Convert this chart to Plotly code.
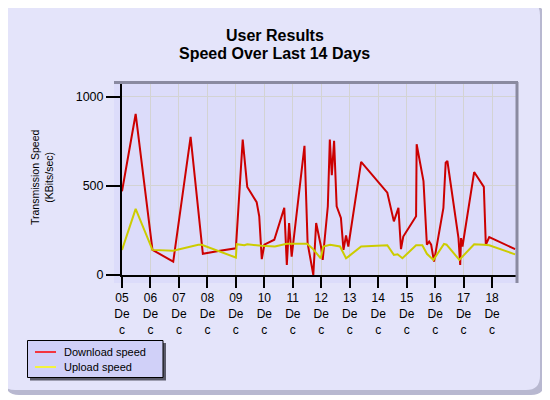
import pandas as pd
import plotly.graph_objects as go

# ---- data (day of month, December) ----
dl_days = [5.00, 5.48, 6.07, 6.80, 7.41, 7.84, 8.44, 9.00, 9.24, 9.40, 9.73, 9.82, 9.91,
           10.00, 10.35, 10.70, 10.79, 10.87, 10.96, 11.41, 11.52, 11.72, 11.82, 11.99,
           12.05, 12.23, 12.30, 12.37, 12.45, 12.54, 12.69, 12.78, 12.87, 12.95, 13.40,
           14.32, 14.55, 14.71, 14.80, 14.88, 15.33, 15.35, 15.59, 15.71, 15.79, 15.86,
           15.96, 16.29, 16.37, 16.43, 16.82, 16.88, 16.91, 16.96, 17.37, 17.71, 17.78,
           17.90, 18.81]
dl_speed = [470, 904, 141, 75, 776, 119, 136, 150, 760, 494, 409, 330, 89,
            170, 198, 377, 56, 292, 103, 725, 179, 0, 292, 160,
            85, 386, 760, 560, 753, 386, 320, 141, 222, 160, 635,
            462, 301, 377, 145, 216, 330, 734, 527, 170, 188, 170,
            75, 377, 631, 640, 207, 56, 207, 160, 578, 495, 170,
            213, 145]

ul_days = [5.00, 5.48, 6.07, 6.80, 7.68, 7.80, 9.00, 9.03, 9.30, 9.40, 9.91, 10.37,
           10.79, 11.50, 11.68, 11.98, 12.07, 12.31, 12.66, 12.87, 12.95, 13.40, 14.32,
           14.55, 14.68, 14.85, 15.33, 15.55, 15.71, 15.94, 16.31, 16.40, 16.85, 17.37,
           17.70, 17.90, 18.81]
ul_speed = [141, 371, 141, 136, 170, 170, 98, 173, 167, 173, 164, 160,
            175, 175, 151, 94, 160, 170, 160, 94, 103, 160, 167,
            113, 116, 94, 167, 167, 119, 85, 175, 170, 85, 173,
            170, 167, 116]

tick_days = list(range(5, 19))
tick_labels = [f"{d:02d}<br>De<br>c" for d in tick_days]
y_ticks = [0, 500, 1000]

series_names = ["Download speed", "Upload speed"]
series_colors = ["#CC0000", "#CCCC00"]
title_lines = ["User Results", "Speed Over Last 14 Days"]
y_title = "Transmission Speed<br>(KBits/sec)"

base = pd.Timestamp("2008-12-01")


def to_time(days):
    return [base + pd.Timedelta(days=d - 1) for d in days]


# ---- geometry (reference pixel coords; page has an 8px body offset) ----
OFF = 8
W, H = 550 - OFF, 400 - OFF
L, R, T, B = 122, 516, 83, 275


def px(x):
    return (x - L) / (R - L)


def py(y):
    return (B - y) / (B - T)


def rounded(x0, y0, x1, y1, r):
    rx = r / (R - L)
    ry = r / (B - T)
    X0, X1 = px(x0), px(x1)
    Y0, Y1 = py(y0), py(y1)
    return (f"M {X0+rx},{Y0} L {X1-rx},{Y0} Q {X1},{Y0} {X1},{Y0-ry} "
            f"L {X1},{Y1+ry} Q {X1},{Y1} {X1-rx},{Y1} "
            f"L {X0+rx},{Y1} Q {X0},{Y1} {X0},{Y1+ry} "
            f"L {X0},{Y0-ry} Q {X0},{Y0} {X0+rx},{Y0} Z")


fig = go.Figure()
fig.add_trace(go.Scatter(x=to_time(dl_days), y=dl_speed, mode="lines",
                         name=series_names[0], line=dict(color=series_colors[0], width=2)))
fig.add_trace(go.Scatter(x=to_time(ul_days), y=ul_speed, mode="lines",
                         name=series_names[1], line=dict(color=series_colors[1], width=2)))

shapes = [
    dict(type="path", xref="paper", yref="paper", layer="below",
         path=rounded(5, 5, 545, 395, 14), fillcolor="#B8B8D0", line=dict(width=0)),
    dict(type="path", xref="paper", yref="paper", layer="below",
         path=rounded(1, 1, 540, 390, 14), fillcolor="#E4E4FA", line=dict(width=0)),
    dict(type="rect", xref="paper", yref="paper", layer="below",
         x0=px(114), x1=px(516), y0=py(283), y1=py(83),
         fillcolor="#DCDCFA", line=dict(width=0)),
    dict(type="line", xref="paper", yref="paper", layer="above",
         x0=px(114), x1=px(518), y0=py(82.5), y1=py(82.5),
         line=dict(color="#8A8AA0", width=3)),
    dict(type="line", xref="paper", yref="paper", layer="above",
         x0=px(517), x1=px(517), y0=py(82), y1=py(283),
         line=dict(color="#8A8AA0", width=3)),
    # legend: shadow, box, samples
    dict(type="rect", xref="paper", yref="paper", layer="above",
         x0=px(30), x1=px(166), y0=py(380.5), y1=py(343),
         fillcolor="#5A5A6A", line=dict(width=0)),
    dict(type="rect", xref="paper", yref="paper", layer="above",
         x0=px(27.5), x1=px(163), y0=py(377.5), y1=py(340.5),
         fillcolor="#D0D0F8", line=dict(color="black", width=1)),
    dict(type="line", xref="paper", yref="paper", layer="above",
         x0=px(35), x1=px(56), y0=py(352), y1=py(352),
         line=dict(color="#FF0000", width=1.5)),
    dict(type="line", xref="paper", yref="paper", layer="above",
         x0=px(35), x1=px(56), y0=py(367), y1=py(367),
         line=dict(color="#FFFF00", width=1.5)),
]

annotations = [
    dict(text="<b>" + title_lines[0] + "</b>", xref="paper", yref="paper",
         x=px(274.5), y=py(35), xanchor="center", yanchor="middle", showarrow=False,
         font=dict(size=16, color="black")),
    dict(text="<b>" + title_lines[1] + "</b>", xref="paper", yref="paper",
         x=px(274.5), y=py(53), xanchor="center", yanchor="middle", showarrow=False,
         font=dict(size=16, color="black")),
    dict(text=y_title, textangle=-90, xref="paper", yref="paper",
         x=px(42), y=py(178), xanchor="center", yanchor="middle",
         showarrow=False, font=dict(size=10.5, color="black")),
    dict(text=series_names[0], xref="paper", yref="paper", x=px(61.5), y=py(351.5),
         xanchor="left", yanchor="middle", showarrow=False,
         font=dict(size=11, color="black")),
    dict(text=series_names[1], xref="paper", yref="paper", x=px(61.5), y=py(366.5),
         xanchor="left", yanchor="middle", showarrow=False,
         font=dict(size=11, color="black")),
]

fig.update_layout(
    width=W, height=H,
    margin=dict(l=L - OFF, r=550 - R, t=T - OFF, b=400 - B, pad=0),
    paper_bgcolor="white",
    plot_bgcolor="rgba(0,0,0,0)",
    font=dict(family="Liberation Sans, Arial, sans-serif", size=12, color="black"),
    shapes=shapes,
    annotations=annotations,
    showlegend=False,
)

fig.update_xaxes(
    range=[base + pd.Timedelta(days=4), base + pd.Timedelta(days=17.84)],
    tickvals=to_time(tick_days), ticktext=tick_labels,
    showgrid=True, gridcolor="#D3D3D3", gridwidth=1,
    showline=True, linecolor="black", linewidth=2,
    ticks="outside", ticklen=11, tickwidth=1.5, tickcolor="black",
    tickangle=0, zeroline=False, tickfont=dict(size=12),
)
fig.update_yaxes(
    range=[0, 1078], tickvals=y_ticks,
    showgrid=True, gridcolor="#D3D3D3", gridwidth=1,
    showline=True, linecolor="black", linewidth=2,
    ticks="outside", ticklen=14, tickwidth=1.5, tickcolor="black",
    zeroline=False, tickfont=dict(size=12.5),
)

fig.write_html("out.html")
